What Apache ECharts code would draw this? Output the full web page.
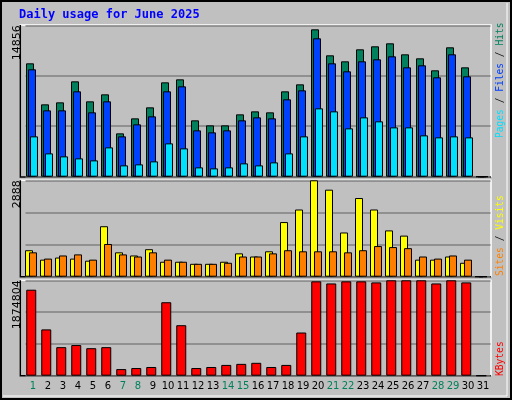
<!DOCTYPE html>
<html><head><meta charset="utf-8">
<script src="https://cdn.jsdelivr.net/npm/echarts@6/dist/echarts.min.js"></script>
<style>html,body{margin:0;padding:0;background:#c0c0c0}#c{width:512px;height:400px}</style>
</head><body><div id="c"></div>
<script>
const days = Array.from({length:31},(_,i)=>String(i+1));
const weekendDays = ['1','7','8','14','15','21','22','28','29'];
const hits  = [11125,7100,7297,9358,7395,8082,4254,5726,6806,9260,9554,5530,5039,5039,6119,6413,6315,8376,9063,14462,11910,11321,12499,12794,13088,12008,11616,10438,12695,10732,0];
const files = [10536,6511,6511,8376,6315,7395,3959,5137,5922,8376,8867,4548,4352,4548,5530,5824,5726,7591,8475,13579,11125,10340,11321,11517,11812,10732,10929,9751,12008,9849,0];
const pages = [3959,2290,1996,1800,1603,2879,1112,1211,1505,3272,2781,916,818,916,1309,1112,1407,2290,3959,6708,6413,4744,5824,5432,4843,4843,4057,3861,3959,3861,0];
const visits = [793,511,574,542,480,1512,730,636,824,448,448,386,386,448,699,605,761,1637,2013,2888,2607,1325,2357,2013,1387,1231,511,511,605,417,0];
const sites  = [730,542,636,668,511,980,668,605,730,511,448,386,386,417,605,605,699,793,761,761,761,730,793,918,887,855,605,542,636,511,0];
const kbytes = [1689974,909986,561044,602096,540518,561044,129998,150524,171050,1443662,992090,150524,171050,212102,232628,253154,171050,212102,848408,1854182,1813130,1854182,1854182,1833656,1874708,1874708,1874708,1813130,1874708,1833656,0];
const yMax = [14856, 2888, 1874804];

const ch = echarts.init(document.getElementById('c'));
const grids = [{left:25.5,width:465,top:25.3,height:151.4},{left:25.5,width:465,top:180.3,height:96.4},{left:25.5,width:465,top:280.3,height:95.4}];
const xAx = grids.map((g,i)=>({type:'category',gridIndex:i,data:days,boundaryGap:true,
  axisLine:{show:false},axisTick:{show:false},
  axisLabel:{show:i===2,interval:0,margin:6,fontFamily:'DejaVu Sans',fontSize:10,
    color:(v)=>weekendDays.includes(v)?'#00805c':'#000'}}));
const yAx = grids.map((g,i)=>({type:'value',gridIndex:i,min:0,max:yMax[i],interval:yMax[i]/3,
  axisLine:{show:false},axisTick:{show:false},
  splitLine:{show:true,lineStyle:{color:'#808080',width:1.5}},
  axisLabel:{rotate:90,margin:3,fontFamily:'DejaVu Sans',fontSize:11,color:'#000',align:'right',verticalAlign:'bottom',
    formatter:(v)=>Math.abs(v-yMax[i])<1?String(yMax[i]):''}}));
const bs = {borderColor:'#000',borderWidth:1};
function bar(d,color,xi,w,gap){return {type:'bar',xAxisIndex:xi,yAxisIndex:xi,data:d,barWidth:w,barGap:gap,
  itemStyle:Object.assign({color},bs),silent:true,animation:false};}
function ghost(xi,w,gap){return {type:'bar',xAxisIndex:xi,yAxisIndex:xi,data:days.map(()=>0),barWidth:w,barGap:gap,itemStyle:{opacity:0},silent:true,animation:false};}
function frame(x,y,w,h){return [
  {type:'polyline',z:-10,shape:{points:[[x,y+h],[x,y],[x+w,y],[x+w,y+h]]},style:{stroke:'#fff',lineWidth:1.5,fill:null}},
  {type:'polyline',z:-9,shape:{points:[[x,y],[x,y+h],[x+w,y+h]]},style:{stroke:'#000',lineWidth:1.5,fill:null}}];}
const F = 'DejaVu Sans Mono';
const rs = (c)=>({fill:c,fontFamily:F,fontSize:9.6});
ch.setOption({
  backgroundColor:'#c0c0c0',
  grid:grids, xAxis:xAx, yAxis:yAx,
  series:[
    bar(hits,'#00805c',0,8,'-75%'),bar(files,'#0040ff',0,8,'-75%'),bar(pages,'#00e0ff',0,8,'-75%'),ghost(0,8,'-75%'),
    bar(visits,'#ffff00',1,8,'-50%'),bar(sites,'#ff8000',1,8,'-50%'),ghost(1,8,'-50%'),
    bar(kbytes,'#ff0000',2,10,'-65%'),ghost(2,10,'-65%')
  ],
  graphic:[
    {type:'rect',z:-20,shape:{x:1,y:1,width:510,height:398},style:{fill:'#c0c0c0',stroke:'#000',lineWidth:2}},
    {type:'polyline',z:-19,shape:{points:[[3,396],[507,396],[507,3]]},style:{stroke:'#fff',lineWidth:1,fill:null}},
    ...frame(20.3,25,470.7,152),...frame(20.3,180.3,470.7,96.4),...frame(20.3,280.3,470.7,95.4),
    {type:'text',left:19,top:9,style:{text:'Daily usage for June 2025',fontFamily:F,fontWeight:'bold',fontSize:12,fill:'#0000ff'}},
    {type:'text',x:495,y:138,rotation:Math.PI/2,style:{text:'{p|Pages}{s| / }{f|Files}{s| / }{h|Hits}',fontFamily:F,fontSize:9.6,verticalAlign:'top',
      rich:{p:rs('#00e0ff'),f:rs('#0040ff'),h:rs('#00805c'),s:rs('#000')}}},
    {type:'text',x:495,y:276,rotation:Math.PI/2,style:{text:'{a|Sites}{s| / }{b|Visits}',fontFamily:F,fontSize:9.6,verticalAlign:'top',
      rich:{a:rs('#ff8000'),b:rs('#ffff00'),s:rs('#000')}}},
    {type:'text',x:495,y:376,rotation:Math.PI/2,style:{text:'KBytes',fontFamily:F,fontSize:9.6,fill:'#ff0000',verticalAlign:'top'}}
  ]
});
</script></body></html>
